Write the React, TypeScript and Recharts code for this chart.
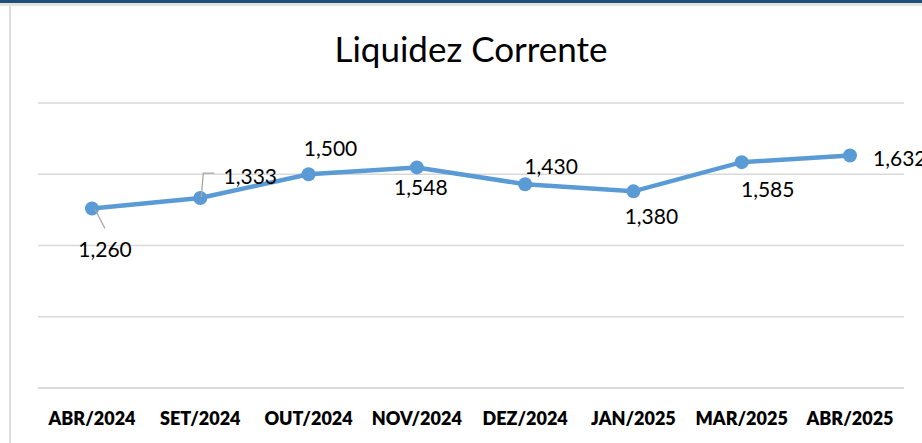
import { LineChart, Line, XAxis, YAxis, CartesianGrid, LabelList } from "recharts";

const months = [
  "ABR/2024",
  "SET/2024",
  "OUT/2024",
  "NOV/2024",
  "DEZ/2024",
  "JAN/2025",
  "MAR/2025",
  "ABR/2025",
];
const liquidez = [1.26, 1.333, 1.5, 1.548, 1.43, 1.38, 1.585, 1.632];
const yTicks = [0, 0.5, 1, 1.5, 2];

const data = months.map((m, i) => ({ month: m, value: liquidez[i] }));

// where each data label sits relative to its point
const LABEL_POS: { dx: number; dy: number; anchor: "middle" | "start" }[] = [
  { dx: 13, dy: 40, anchor: "middle" },
  { dx: 50, dy: -23, anchor: "middle" },
  { dx: 22, dy: -27, anchor: "middle" },
  { dx: 4, dy: 19, anchor: "middle" },
  { dx: 26, dy: -19, anchor: "middle" },
  { dx: 18, dy: 24, anchor: "middle" },
  { dx: 26, dy: 26, anchor: "middle" },
  { dx: 23, dy: 2, anchor: "start" },
];

const fmt = (v: number) => v.toFixed(3).replace(".", ",");

function PointLabel(props: any) {
  const { x, y, value, index } = props;
  const p = LABEL_POS[index];
  return (
    <g>
      {index === 0 && (
        <line x1={x + 3} y1={y + 1} x2={x + 13} y2={y + 20} stroke="#a6a6a6" strokeWidth={1.3} />
      )}
      {index === 1 && (
        <polyline
          points={`${x + 1},${y - 1} ${x + 3},${y - 25} ${x + 14},${y - 25}`}
          fill="none"
          stroke="#a6a6a6"
          strokeWidth={1.3}
        />
      )}
      <text
        x={x + p.dx}
        y={y + p.dy}
        textAnchor={p.anchor}
        dominantBaseline="central"
        fontSize={21}
        fill="#000"
        fontFamily="Lato, sans-serif"
      >
        {fmt(value)}
      </text>
    </g>
  );
}

export default function App() {
  return (
    <div
      style={{
        position: "fixed",
        top: 0,
        left: 0,
        width: 922,
        height: 443,
        background: "#fff",
        overflow: "hidden",
        fontFamily: "Lato, sans-serif",
      }}
    >
      <div style={{ position: "absolute", top: 0, left: 0, width: 922, height: 3, background: "#1f4e79" }} />
      <div style={{ position: "absolute", top: 3, left: 0, width: 922, height: 3, background: "#e3e3e3" }} />
      <div style={{ position: "absolute", top: 6, left: 9, width: 2, height: 437, background: "#dcdcdc" }} />
      <div
        style={{
          position: "absolute",
          top: 27,
          left: 0,
          width: 942,
          textAlign: "center",
          fontSize: 35,
          color: "#000",
        }}
      >
        Liquidez Corrente
      </div>
      <div style={{ position: "absolute", top: 0, left: 0 }}>
        <LineChart
          width={922}
          height={443}
          data={data}
          margin={{ top: 103, right: 18, bottom: 25, left: 38 }}
        >
          <CartesianGrid vertical={false} stroke="#d9d9d9" strokeWidth={1.5} />
          <XAxis
            dataKey="month"
            height={30}
            tickLine={false}
            padding={{ left: 54, right: 54 }}
            axisLine={{ stroke: "#d9d9d9", strokeWidth: 1.5 }}
            tick={{ fill: "#000", fontSize: 18, fontWeight: 800, fontFamily: "Lato, sans-serif" }}
            tickMargin={18}
            interval={0}
          />
          <YAxis hide domain={[0, 2]} ticks={yTicks} />
          <Line
            type="linear"
            dataKey="value"
            stroke="#5b9bd5"
            strokeWidth={4.5}
            dot={{ r: 7, fill: "#5b9bd5", stroke: "#5b9bd5", strokeWidth: 0 }}
            isAnimationActive={false}
          >
            <LabelList dataKey="value" content={<PointLabel />} />
          </Line>
        </LineChart>
      </div>
    </div>
  );
}
